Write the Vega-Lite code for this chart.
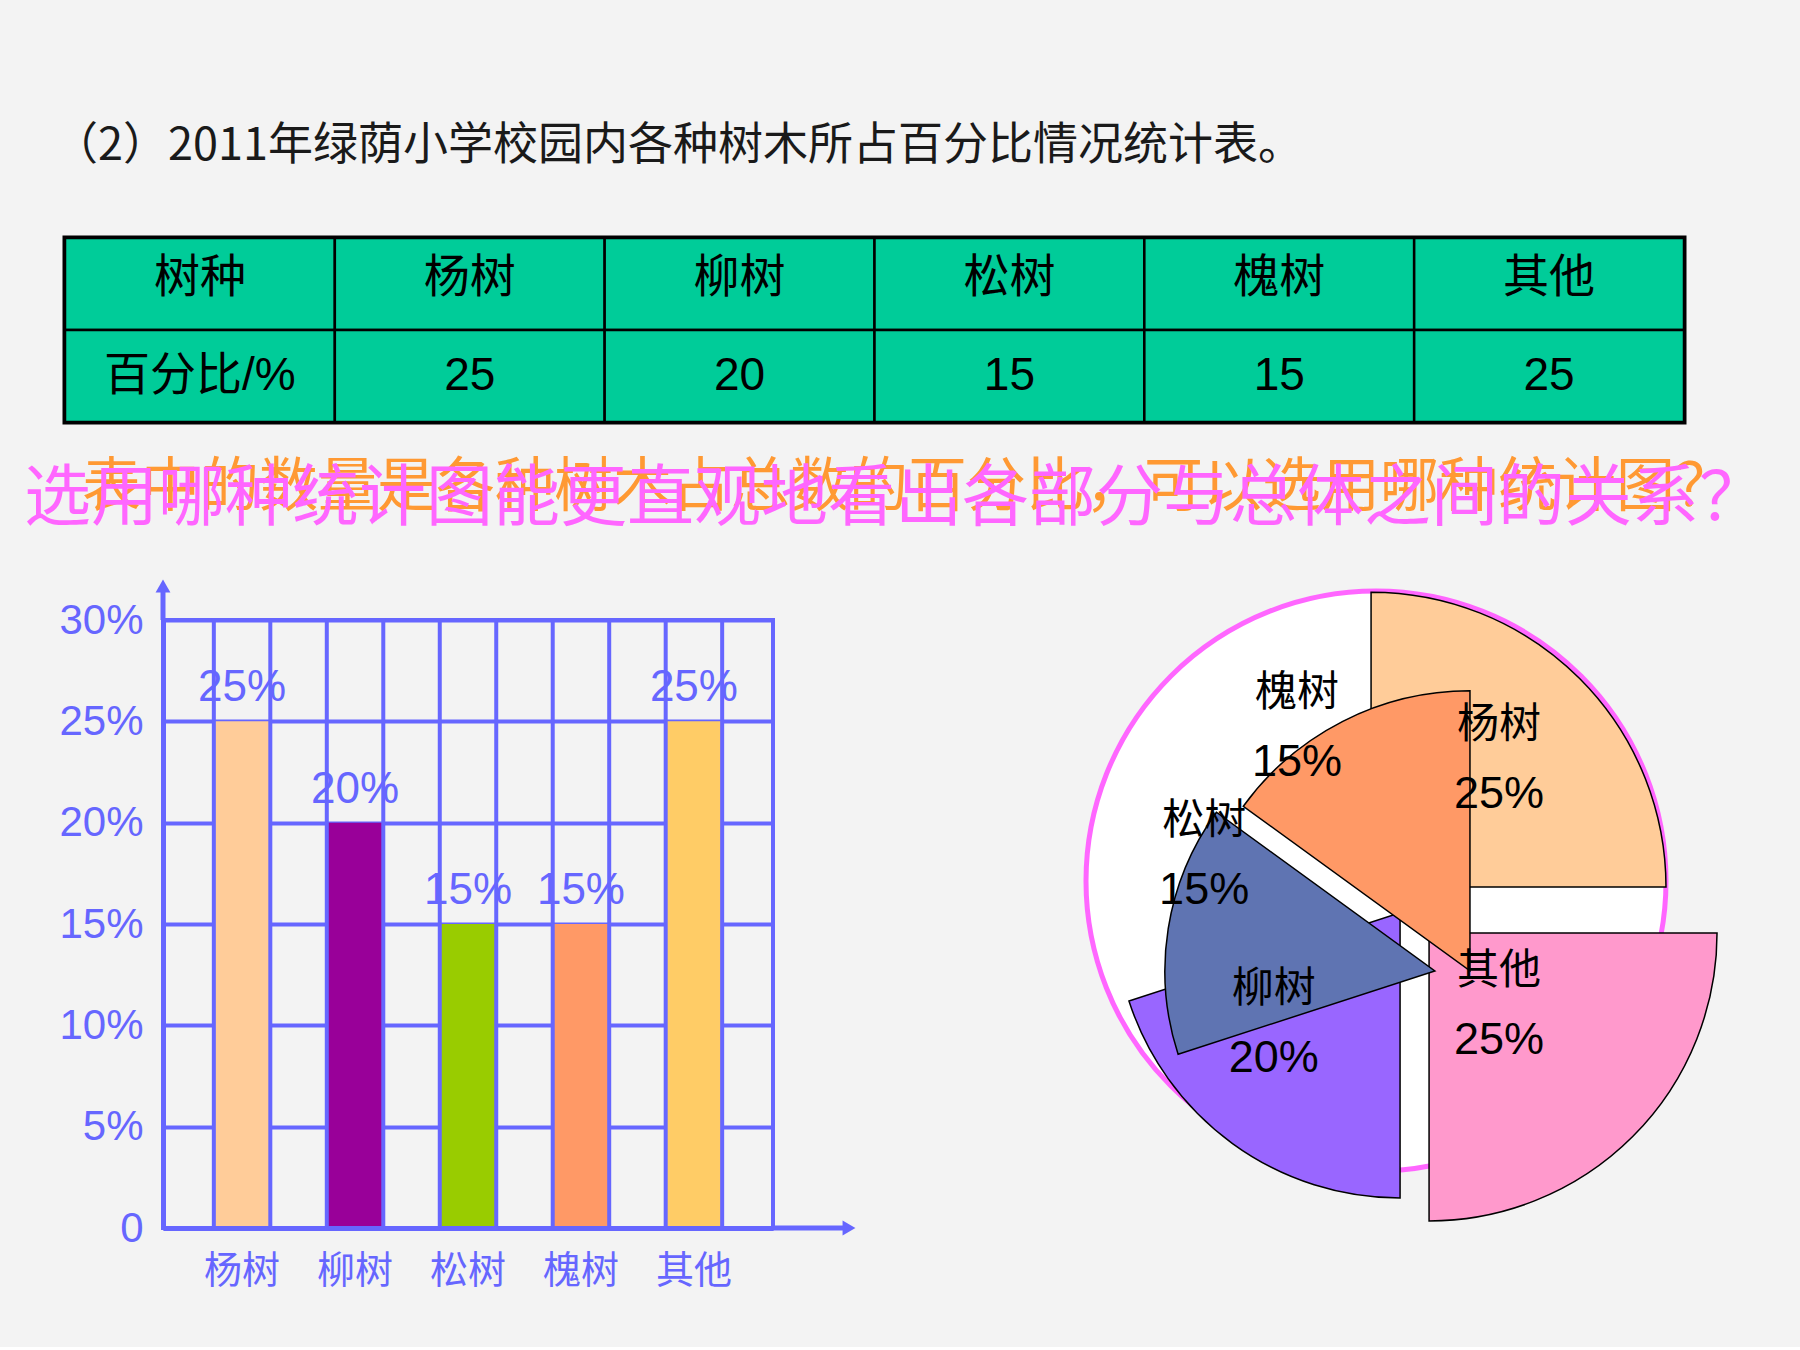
{
  "$schema": "https://vega.github.io/schema/vega-lite/v6.json",
  "background": "#f3f3f3",
  "padding": 0,
  "autosize": {"type": "pad"},
  "bounds": "full",
  "spacing": 0,
  "config": {"view": {"stroke": null}, "concat": {"spacing": 0}, "font": "Liberation Sans"},
  "resolve": {"scale": {"color": "independent", "theta": "independent", "radius": "independent"}},
  "datasets": {
    "trees": [
      {"tree": "杨树", "pct": 25, "label": "25%", "seq": 1, "ox": -1.7, "oy": -2.1, "r": 101.7},
      {"tree": "其他", "pct": 25, "label": "25%", "seq": 2, "ox": 18.3, "oy": -17.9, "r": 99.3},
      {"tree": "柳树", "pct": 20, "label": "20%", "seq": 3, "ox": 8.3, "oy": -11.0, "r": 98.3},
      {"tree": "松树", "pct": 15, "label": "15%", "seq": 4, "ox": 20.3, "oy": -31.0, "r": 93.1},
      {"tree": "槐树", "pct": 15, "label": "15%", "seq": 5, "ox": 32.4, "oy": -31.0, "r": 96.6}
    ],
    "table": [
      {"col": "树种", "head": "树种", "val": "百分比/%"},
      {"col": "杨树", "head": "杨树", "val": "25"},
      {"col": "柳树", "head": "柳树", "val": "20"},
      {"col": "松树", "head": "松树", "val": "15"},
      {"col": "槐树", "head": "槐树", "val": "15"},
      {"col": "其他", "head": "其他", "val": "25"}
    ]
  },
  "vconcat": [
    {
      "width": 1356, "height": 233.5,
      "data": {"values": [{"t": "（2）2011年绿荫小学校园内各种树木所占百分比情况统计表。"}]},
      "mark": {"type": "text", "font": "Noto Sans CJK SC", "fontSize": 45, "color": "#1a1a1a", "dy": 29},
      "encoding": {"text": {"field": "t"}}
    },
    {
      "hconcat": [
        {"width": 65, "height": 184, "data": {"values": [{}]}, "mark": {"type": "point", "opacity": 0}},
        {
          "width": 1619, "height": 184,
          "view": {"stroke": "#000000", "strokeWidth": 5},
          "data": {"name": "table"},
          "transform": [{"fold": ["head", "val"], "as": ["row", "label"]}],
          "layer": [
            {
              "mark": {"type": "rect", "fill": "#00CC99", "stroke": "#000000", "strokeWidth": 2.5},
              "encoding": {
                "x": {"field": "col", "type": "nominal", "sort": ["树种", "杨树", "柳树", "松树", "槐树", "其他"], "axis": null, "scale": {"paddingInner": 0, "paddingOuter": 0}},
                "y": {"field": "row", "type": "nominal", "sort": ["head", "val"], "axis": null, "scale": {"paddingInner": 0, "paddingOuter": 0}}
              }
            },
            {
              "transform": [{"filter": "datum.row === 'head'"}],
              "mark": {"type": "text", "font": "Noto Sans CJK SC", "fontSize": 46, "color": "#000000", "dy": -6},
              "encoding": {
                "x": {"field": "col", "type": "nominal", "sort": ["树种", "杨树", "柳树", "松树", "槐树", "其他"]},
                "y": {"field": "row", "type": "nominal", "sort": ["head", "val"]},
                "text": {"field": "label"}
              }
            },
            {
              "transform": [{"filter": "datum.row === 'val'"}],
              "mark": {"type": "text", "font": "Liberation Sans, Noto Sans CJK SC", "fontSize": 46, "color": "#000000"},
              "encoding": {
                "x": {"field": "col", "type": "nominal", "sort": ["树种", "杨树", "柳树", "松树", "槐树", "其他"]},
                "y": {"field": "row", "type": "nominal", "sort": ["head", "val"]},
                "text": {"field": "label"}
              }
            }
          ]
        }
      ],
      "spacing": 0, "bounds": "flush"
    },
    {
      "width": 1800, "height": 150.5,
      "layer": [
        {
          "data": {"values": [{"q": "表中的数量是各种树木占总数的百分比，可以选用哪种统计图？"}]},
          "mark": {"type": "text", "font": "Noto Sans CJK SC", "fontSize": 59, "color": "#FF9933", "dx": 8, "dy": -13},
          "encoding": {"text": {"field": "q"}}
        },
        {
          "data": {"values": [{"q": "选用哪种统计图能更直观地看出各部分与总体之间的关系？"}]},
          "mark": {"type": "text", "font": "Noto Sans CJK SC", "fontSize": 67, "color": "#FF66FF", "dx": -5, "dy": -1},
          "encoding": {"text": {"field": "q"}}
        }
      ]
    },
    {
      "hconcat": [
        {"width": 163, "height": 608, "data": {"values": [{}]}, "mark": {"type": "point", "opacity": 0}},
        {
          "width": 610, "height": 608,
          "view": {"stroke": "#6666FF", "strokeWidth": 4},
          "data": {"name": "trees"},
          "layer": [
            {
              "mark": {"type": "bar"},
              "encoding": {
                "x": {"field": "tree", "type": "nominal", "sort": ["杨树", "柳树", "松树", "槐树", "其他"], "scale": {"paddingInner": 0.5, "paddingOuter": 0.45},
                  "axis": {"title": null, "ticks": false, "grid": false, "domain": true, "domainColor": "#6666FF", "domainWidth": 5, "labelAngle": 0, "labelFont": "Noto Sans CJK SC", "labelFontSize": 38, "labelColor": "#6666FF", "labelPadding": 24}},
                "y": {"field": "pct", "type": "quantitative", "scale": {"domain": [0, 30], "nice": false},
                  "axis": {"title": null, "values": [0, 5, 10, 15, 20, 25, 30], "labelExpr": "datum.value == 0 ? '0' : datum.value + '%'", "ticks": false, "domainColor": "#6666FF", "domainWidth": 5, "grid": true, "gridColor": "#6666FF", "gridWidth": 4, "gridOpacity": 1, "labelFont": "Liberation Sans", "labelFontSize": 42, "labelColor": "#6666FF", "labelPadding": 20}},
                "color": {"field": "tree", "type": "nominal", "scale": {"domain": ["杨树", "柳树", "松树", "槐树", "其他"], "range": ["#FFCC99", "#990099", "#99CC00", "#FF9966", "#FFCC66"]}, "legend": null}
              }
            },
            {
              "mark": {"type": "rect", "filled": false, "stroke": "#6666FF", "strokeWidth": 4},
              "encoding": {
                "x": {"field": "tree", "type": "nominal", "sort": ["杨树", "柳树", "松树", "槐树", "其他"]},
                "y": {"datum": 0, "type": "quantitative"},
                "y2": {"datum": 30}
              }
            },
            {
              "mark": {"type": "text", "font": "Liberation Sans", "fontSize": 44, "color": "#6666FF", "baseline": "alphabetic", "dy": -20},
              "encoding": {
                "x": {"field": "tree", "type": "nominal", "sort": ["杨树", "柳树", "松树", "槐树", "其他"]},
                "y": {"field": "pct", "type": "quantitative"},
                "text": {"field": "label"}
              }
            },
            {
              "data": {"values": [{}]},
              "mark": {"type": "rule", "color": "#6666FF", "strokeWidth": 5},
              "encoding": {"x": {"value": 0}, "y": {"value": 0}, "y2": {"value": -30}}
            },
            {
              "data": {"values": [{}]},
              "mark": {"type": "point", "shape": "triangle-up", "filled": true, "color": "#6666FF", "size": 220, "opacity": 1},
              "encoding": {"x": {"value": 0}, "y": {"value": -34}}
            },
            {
              "data": {"values": [{}]},
              "mark": {"type": "rule", "color": "#6666FF", "strokeWidth": 5, "x2Offset": 72},
              "encoding": {"x": {"value": "width"}, "x2": {"value": "width"}, "y": {"value": "height"}}
            },
            {
              "data": {"values": [{}]},
              "mark": {"type": "point", "shape": "triangle-right", "filled": true, "color": "#6666FF", "size": 220, "opacity": 1, "xOffset": 76},
              "encoding": {"x": {"value": "width"}, "y": {"value": "height"}}
            }
          ]
        },
        {"width": 313, "height": 608, "data": {"values": [{}]}, "mark": {"type": "point", "opacity": 0}},
        {
          "width": 580, "height": 522,
          "data": {"name": "trees"},
          "layer": [
            {
              "data": {"values": [{}]},
              "mark": {"type": "arc", "fill": "#FFFFFF", "stroke": "#FF66FF", "strokeWidth": 5},
              "encoding": {
                "theta": {"datum": 0, "type": "quantitative", "scale": {"domain": [0, 100]}},
                "theta2": {"datum": 100},
                "radius": {"datum": 100, "type": "quantitative", "scale": {"domain": [0, 100], "range": [0, 290], "zero": true}}
              }
            },
            {
              "transform": [{"stack": "pct", "groupby": [], "sort": [{"field": "seq", "order": "ascending"}], "as": ["start", "end"]}],
              "mark": {"type": "arc", "stroke": "#000000", "strokeWidth": 1.5},
              "encoding": {
                "theta": {"field": "start", "type": "quantitative", "stack": null, "scale": {"domain": [0, 100]}},
                "theta2": {"field": "end"},
                "radius": {"field": "r", "type": "quantitative", "scale": {"domain": [0, 100], "range": [0, 290], "zero": true}},
                "x": {"field": "ox", "type": "quantitative", "scale": {"domain": [-100, 100], "nice": false, "zero": false}, "axis": null},
                "y": {"field": "oy", "type": "quantitative", "scale": {"domain": [-90, 90], "nice": false, "zero": false}, "axis": null},
                "color": {"field": "tree", "type": "nominal", "scale": {"domain": ["杨树", "其他", "柳树", "松树", "槐树"], "range": ["#FFCC99", "#FF99CC", "#9966FF", "#5F74B2", "#FF9966"]}, "legend": null}
              }
            },
            {
              "mark": {"type": "text", "font": "Noto Sans CJK SC", "fontSize": 42, "color": "#000000", "dy": -33},
              "encoding": {
                "theta": {"field": "pct", "type": "quantitative", "stack": true},
                "order": {"field": "seq", "type": "quantitative"},
                "radius": {"datum": 60, "type": "quantitative"},
                "text": {"field": "tree"}
              }
            },
            {
              "mark": {"type": "text", "font": "Liberation Sans", "fontSize": 45, "color": "#000000", "dy": 36},
              "encoding": {
                "theta": {"field": "pct", "type": "quantitative", "stack": true},
                "order": {"field": "seq", "type": "quantitative"},
                "radius": {"datum": 60, "type": "quantitative"},
                "text": {"field": "label"}
              }
            }
          ]
        }
      ],
      "spacing": 0, "bounds": "flush",
      "resolve": {"scale": {"color": "independent", "theta": "independent", "radius": "independent"}}
    },
    {"width": 1800, "height": 55, "data": {"values": [{}]}, "mark": {"type": "point", "opacity": 0}}
  ]
}
